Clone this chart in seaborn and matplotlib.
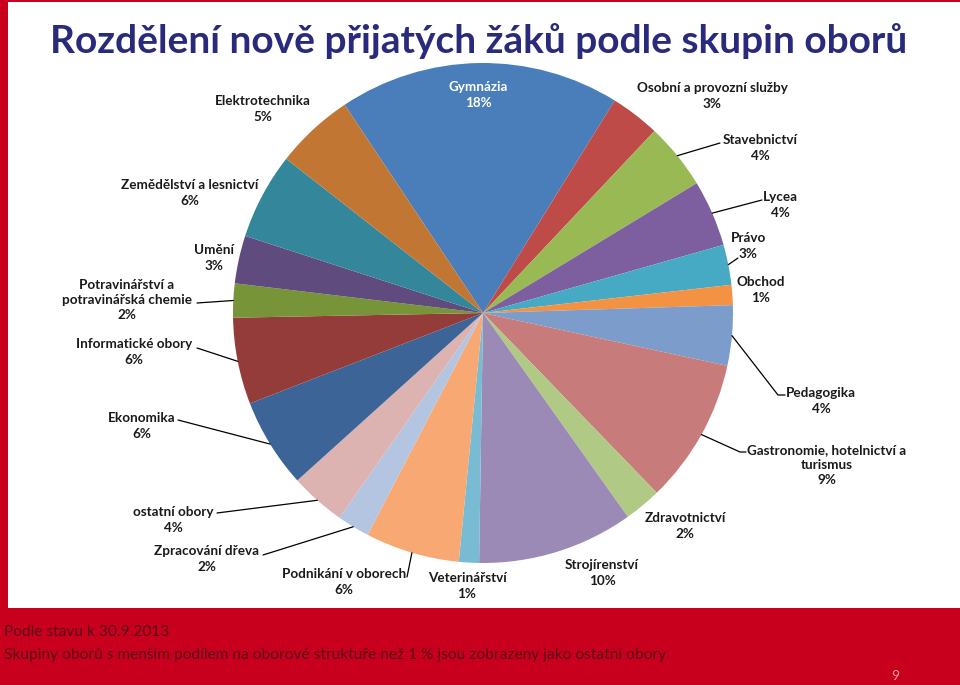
import numpy as np
import matplotlib
matplotlib.use("Agg")
import matplotlib.pyplot as plt
import seaborn as sns
from matplotlib.patches import Rectangle

# data (share of newly admitted pupils, %)
obory = ["Gymnázia", "Osobní a provozní služby", "Stavebnictví", "Lycea", "Právo",
         "Obchod", "Pedagogika", "Gastronomie, hotelnictví a\nturismus", "Zdravotnictví",
         "Strojírenství", "Veterinářství", "Podnikání v oborech", "Zpracování dřeva",
         "ostatní obory", "Ekonomika", "Informatické obory",
         "Potravinářství a\npotravinářská chemie", "Umění", "Zemědělství a lesnictví",
         "Elektrotechnika"]
podil = [18.2, 3.2, 4.3, 4.3, 2.6, 1.3, 3.9, 9.4, 2.4, 10.1,
         1.3, 6.1, 2.1, 3.6, 5.8, 5.6, 2.2, 3.1, 5.6, 5.1]
barvy = ["#4A7EBB", "#BE4B48", "#98B954", "#7D5FA0", "#46AAC4", "#F39242", "#7C9CCB",
         "#C77C7B", "#B0CA85", "#9C8AB6", "#78BBD2", "#F8A872", "#B4C5E2", "#DDB3B2",
         "#3C6496", "#943C3A", "#789439", "#5F4B7D", "#34879B", "#C27633"]

title = "Rozdělení nově přijatých žáků podle skupin oborů"
note1 = "Podle stavu k 30.9.2013"
note2 = "Skupiny oborů s menším podílem na oborové struktuře než 1 % jsou zobrazeny jako ostatní obory."

# layout (pixels from top-left)
W, H = 960, 685
cx, cy, R = 483, 313, 250
label_pos = [(478, 95), (712, 96), (760, 148), (780, 205), (748, 246), (761, 290),
             (821, 401), (827, 465), (685, 526), (602, 573), (467, 586), (344, 582),
             (207, 559), (173, 520), (142, 426), (134, 352), (127, 300), (214, 258),
             (190, 193), (263, 109)]
leader = {2: [(720, 143)], 3: [(762, 200)], 4: [(738, 258)],
          6: [(778, 395), (785, 395)], 7: [(740, 452), (746, 452)],
          16: [(197, 303)], 15: [(197, 348)], 14: [(178, 420)],
          13: [(217, 513)], 12: [(263, 555)], 11: [(407, 577)]}

red = "#C8001E"
sns.set_theme(style="white")
plt.rcParams["font.family"] = ["Lato", "DejaVu Sans"]

fig = plt.figure(figsize=(W / 100, H / 100), dpi=100, facecolor=red)
ax = fig.add_axes([0, 0, 1, 1])
ax.set_facecolor(red)

def Y(py):
    return H - py

ax.add_patch(Rectangle((8, Y(608)), W - 8, 606, facecolor="white", edgecolor="none", zorder=0))

wedges, _ = ax.pie(podil, colors=sns.color_palette(barvy), startangle=123.6,
                   counterclock=False, center=(cx, Y(cy)), radius=R,
                   wedgeprops=dict(linewidth=0))

for i, (name, v, w) in enumerate(zip(obory, podil, wedges)):
    lx, ly = label_pos[i]
    col = "white" if i == 0 else "#1a1a1a"
    ax.text(lx, Y(ly), f"{name}\n{v:.0f}%", ha="center", va="center", fontsize=9.7,
            fontweight="bold", color=col, linespacing=1.33, zorder=5)
    if i in leader:
        mid = np.deg2rad((w.theta1 + w.theta2) / 2)
        pts = [(cx + R * np.cos(mid), Y(cy) + R * np.sin(mid))]
        pts += [(px, Y(py)) for px, py in leader[i]]
        xs, ys = zip(*pts)
        ax.plot(xs, ys, color="black", lw=0.9, zorder=4)

ax.text(479, Y(41), title, ha="center", va="center", fontsize=28, fontweight="bold",
        color="#2A2A7C")
ax.text(4, Y(632), note1, ha="left", va="center", fontsize=11.2, color="#5C0A16")
ax.text(4, Y(655), note2, ha="left", va="center", fontsize=11.2, color="#5C0A16")
ax.text(895, Y(676), "9", ha="center", va="center", fontsize=10, color="#F2A0AA")

ax.set_xlim(0, W)
ax.set_ylim(0, H)
ax.set_aspect("auto")
ax.axis("off")

fig.savefig("out.png", dpi=100, facecolor=red)
